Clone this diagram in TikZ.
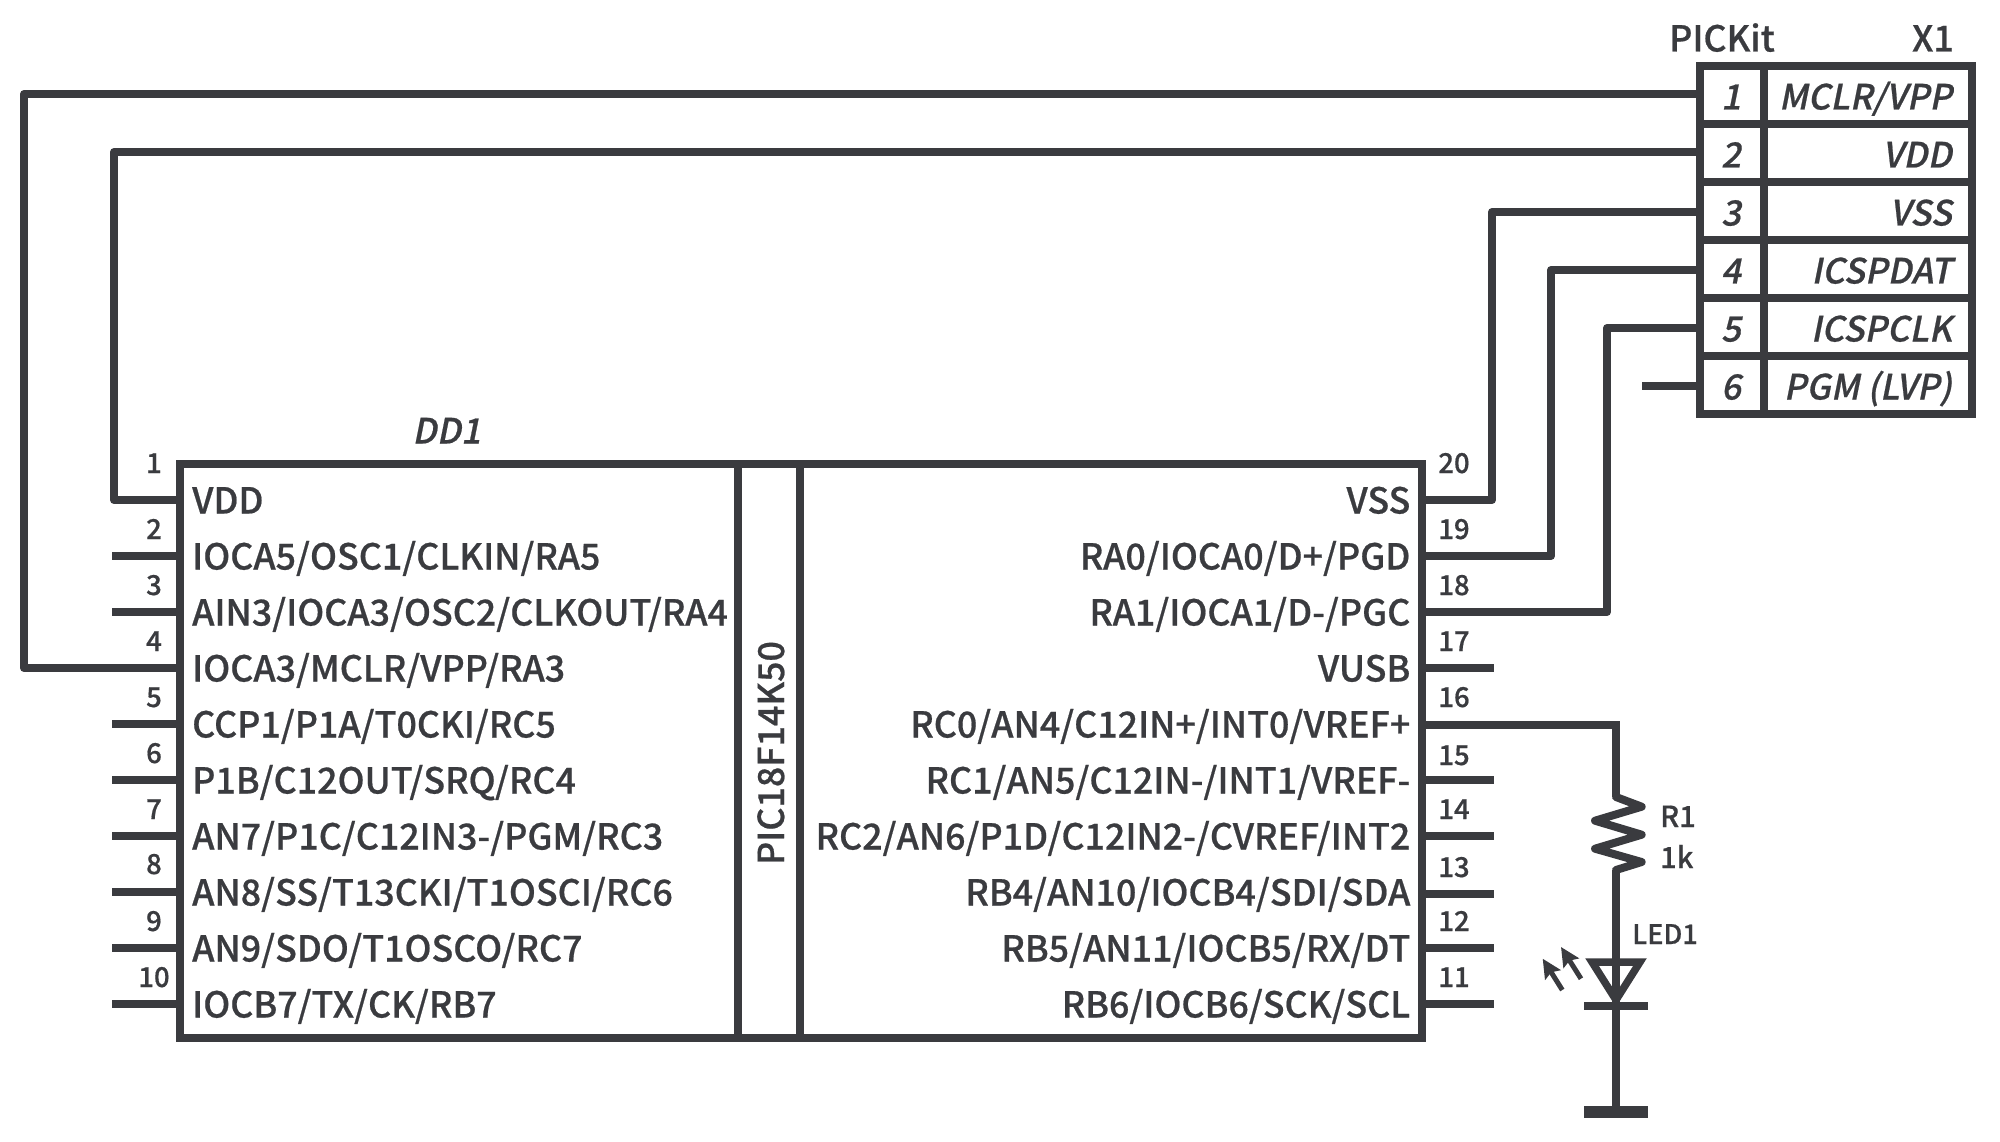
\documentclass[tikz,border=0pt]{standalone}
\usepackage{fontspec}
\usetikzlibrary{arrows.meta}
\setmainfont[FakeBold=0.6]{Noto Sans CJK SC Medium}
\newfontfamily\slantfont[FakeSlant=0.2,FakeBold=0.6]{Noto Sans CJK SC Medium}
\definecolor{ink}{HTML}{3A3B3F}
\tikzset{
  wire/.style={draw=ink,line width=8pt,line join=round},
  boxline/.style={draw=ink,line width=8pt,line join=miter},
  pinline/.style={draw=ink,line width=8pt},
  lab/.style={inner sep=0pt,text=ink,font=\fontsize{35.8}{35.8}\selectfont},
  pinnum/.style={inner sep=0pt,text=ink,anchor=base,font=\fontsize{27.5}{27.5}\selectfont},
  ital/.style={inner sep=0pt,text=ink,font=\fontsize{34.8}{34.8}\slantfont},
  small/.style={inner sep=0pt,text=ink,anchor=base west,font=\fontsize{29}{29}\selectfont},
  smaller/.style={inner sep=0pt,text=ink,anchor=base west,font=\fontsize{27}{27}\selectfont},
  ray/.style={draw=ink,line width=5pt,-{Stealth[length=19pt,width=18pt,inset=3pt]}}
}
\begin{document}
\begin{tikzpicture}[x=1pt,y=-1pt]
\useasboundingbox (0,0) rectangle (2000,1142);
% IC body
\coordinate (icTL) at (180,464);
\coordinate (icBR) at (1422,1038);
\draw[boxline] (icTL) rectangle (icBR);
\coordinate (divAt) at (738,464);
\coordinate (divAb) at (738,1038);
\coordinate (divBt) at (800,464);
\coordinate (divBb) at (800,1038);
\draw[pinline] (divAt) -- (divAb);
\draw[pinline] (divBt) -- (divBb);
\node[lab,rotate=90,anchor=base] (icname) at (784,753) {PIC18F14K50};
\node[ital,anchor=base] (dd) at (446.5,443.5) {DD1};
% left pins
\foreach \n/\y/\nb/\t in {
 1/500/473/VDD,
 2/556/539/IOCA5\slash OSC1\slash CLKIN\slash RA5,
 3/612/595/AIN3\slash IOCA3\slash OSC2\slash CLKOUT\slash RA4,
 4/668/651/IOCA3\slash MCLR\slash VPP\slash RA3,
 5/724/707/CCP1\slash P1A\slash T0CKI\slash RC5,
 6/780/763/P1B\slash C12OUT\slash SRQ\slash RC4,
 7/836/819/AN7\slash P1C\slash C12IN3-\slash PGM\slash RC3,
 8/892/874/AN8\slash SS\slash T13CKI\slash T1OSCI\slash RC6,
 9/948/931/AN9\slash SDO\slash T1OSCO\slash RC7,
 10/1004/987/IOCB7\slash TX\slash CK\slash RB7}{
  \coordinate (L\n) at (180,\y);
  \coordinate (Ls\n) at (112,\y);
  \node[lab,anchor=base west] (Lt\n) at (192,\y+13.5) {\t};
  \node[pinnum] (Ln\n) at (154,\nb) {\n};
}
\foreach \n in {2,3,5,6,7,8,9,10} \draw[pinline] (Ls\n) -- (L\n);
% right pins
\foreach \n/\y/\ty/\nb/\t in {
 20/500/513.5/473/VSS,
 19/556/569.5/539/RA0\slash IOCA0\slash D+\slash PGD,
 18/612/625.5/595/RA1\slash IOCA1\slash D-\slash PGC,
 17/668/681.5/651/VUSB,
 16/725/737.5/707/RC0\slash AN4\slash C12IN+\slash INT0\slash VREF+,
 15/780/793.5/765/RC1\slash AN5\slash C12IN-\slash INT1\slash VREF-,
 14/836/849.5/819/RC2\slash AN6\slash P1D\slash C12IN2-\slash CVREF\slash INT2,
 13/894/905.5/877/RB4\slash AN10\slash IOCB4\slash SDI\slash SDA,
 12/948/961.5/931/RB5\slash AN11\slash IOCB5\slash RX\slash DT,
 11/1004/1017.5/987/RB6\slash IOCB6\slash SCK\slash SCL}{
  \coordinate (R\n) at (1422,\y);
  \coordinate (Rs\n) at (1494,\y);
  \node[lab,anchor=base east] (Rt\n) at (1410.5,\ty) {\t};
  \node[pinnum] (Rn\n) at (1454,\nb) {\n};
}
\foreach \n in {17,15,14,13,12,11} \draw[pinline] (R\n) -- (Rs\n);
% connector X1
\coordinate (xTL) at (1700,66);
\coordinate (xBR) at (1972,414);
\draw[boxline] (xTL) rectangle (xBR);
\coordinate (xdt) at (1764,66);
\coordinate (xdb) at (1764,414);
\draw[pinline] (xdt) -- (xdb);
\foreach \i/\y/\b/\t in {1/94/109.5/MCLR\slash VPP,2/152/167.5/VDD,3/212/225.5/VSS,4/270/283.5/ICSPDAT,5/328/341.5/ICSPCLK,6/386/399.5/PGM (LVP)}{
  \coordinate (X\i) at (1700,\y);
  \node[ital,anchor=base] (Xn\i) at (1731,\b) {\i};
  \node[ital,anchor=base east] (Xt\i) at (1952,\b) {\t};
}
\foreach \y in {124,182,240,298,356} \draw[pinline] (1700,\y) -- (1972,\y);
\node[lab,anchor=base west] (pk) at (1669,51.5) {PICKit};
\node[lab,anchor=base east] (x1) at (1954,51.5) {X1};
% wires
\coordinate (c4) at (24,94);
\draw[wire] (X1) -- (c4) -- (c4 |- L4) -- (L4);
\coordinate (c1) at (114,152);
\draw[wire] (X2) -- (c1) -- (c1 |- L1) -- (L1);
\coordinate (c20) at (1492,212);
\draw[wire] (X3) -- (c20) -- (c20 |- R20) -- (R20);
\coordinate (c19) at (1551,270);
\draw[wire] (X4) -- (c19) -- (c19 |- R19) -- (R19);
\coordinate (c18) at (1607,328);
\draw[wire] (X5) -- (c18) -- (c18 |- R18) -- (R18);
\coordinate (x6s) at (1642,386);
\draw[pinline] (X6) -- (x6s);
% LED branch
\coordinate (rt) at (1616,797);
\coordinate (rb) at (1616,870);
\draw[boxline] (R16) -- (rt |- R16) -- (rt);
\draw[wire,line width=8pt,line cap=round]
  (rt) -- (1641.7,806.7) -- (1595,820.7) -- (1641.7,834.7) -- (1595,848.7) -- (1641.7,862) -- (rb);
\coordinate (gnd) at (1616,1112);
\draw[pinline] (rb) -- (gnd);
\draw[boxline,line width=7.5pt] (1592,962) -- (1640,962) -- (1616,1000) -- cycle;
\draw[pinline] (1584,1006) -- (1648,1006);
\draw[draw=ink,line width=12pt] (1584,1112) -- (1648,1112);
\coordinate (ra1) at (1562.3,990);
\coordinate (ra2) at (1542.7,958.7);
\coordinate (rb1) at (1581,978.7);
\coordinate (rb2) at (1561,947);
\draw[ray] (ra1) -- (ra2);
\draw[ray] (rb1) -- (rb2);
\node[small] (r1) at (1660,827) {R1};
\node[small] (r1v) at (1660,868) {1k};
\node[smaller] (led) at (1632,944) {LED1};
\end{tikzpicture}
\end{document}
